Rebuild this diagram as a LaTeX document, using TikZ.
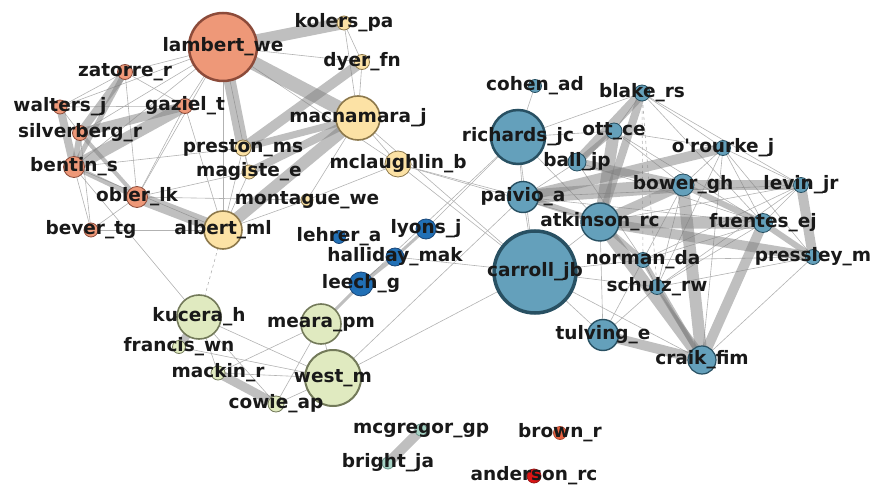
\documentclass[tikz,border=0pt]{standalone}
\usepackage{fontspec}
\newfontfamily\lblfont{DejaVu Sans}
\usepackage{tikz}
\usetikzlibrary{backgrounds}

\definecolor{salmonfill}{RGB}{238,152,120}
\definecolor{salmonline}{RGB}{140,75,58}
\definecolor{sandfill}{RGB}{252,226,165}
\definecolor{sandline}{RGB}{140,120,75}
\definecolor{navyfill}{RGB}{33,112,182}
\definecolor{navyline}{RGB}{25,70,120}
\definecolor{steelfill}{RGB}{100,160,187}
\definecolor{steelline}{RGB}{40,80,98}
\definecolor{sagefill}{RGB}{224,234,192}
\definecolor{sageline}{RGB}{115,122,90}
\definecolor{tealfill}{RGB}{165,210,196}
\definecolor{tealline}{RGB}{110,150,140}

\begin{document}
\begin{tikzpicture}[
    x=1pt, y=-1pt,
    vtx/.style={circle, inner sep=0pt, line width=0.8pt, minimum size=#1},
    salmon/.style={vtx=#1, fill=salmonfill, draw=salmonline},
    sand/.style={vtx=#1, fill=sandfill, draw=sandline},
    navy/.style={vtx=#1, fill=navyfill, draw=navyline},
    steel/.style={vtx=#1, fill=steelfill, draw=steelline},
    sage/.style={vtx=#1, fill=sagefill, draw=sageline},
    teal/.style={vtx=#1, fill=tealfill, draw=tealline},
    heavy/.style={line width=2.5pt},
    lbl/.style={font=\lblfont\bfseries\fontsize{18.5}{18.5}\selectfont, text=black!90, inner sep=0pt},
    lnk/.style={draw=black!30, line width=0.6pt},
    band/.style={draw=black!50, draw opacity=0.5, line width=#1},
]
  \useasboundingbox (0,0) rectangle (875,489);

  % orange / yellow group
  \node[salmon=68, heavy, label={[lbl]center:lambert\_we}] (lambert) at (223,47) {};
  \node[sand=14, label={[lbl]center:kolers\_pa}] (kolers) at (344,23) {};
  \node[sand=15, label={[lbl]center:dyer\_fn}] (dyer) at (362,62) {};
  \node[salmon=15, label={[lbl]center:zatorre\_r}] (zatorre) at (125,72) {};
  \node[salmon=14, label={[lbl]center:walters\_j}] (walters) at (60,107) {};
  \node[salmon=15, label={[lbl]center:gaziel\_t}] (gaziel) at (185,106) {};
  \node[salmon=15, label={[lbl]center:silverberg\_r}] (silverberg) at (80,133) {};
  \node[sand=44, line width=1.6pt, label={[lbl]center:macnamara\_j}] (macnamara) at (358,118) {};
  \node[sand=16, label={[lbl]center:preston\_ms}] (preston) at (243,148) {};
  \node[salmon=21, label={[lbl]center:bentin\_s}] (bentin) at (74,167) {};
  \node[sand=14, label={[lbl]center:magiste\_e}] (magiste) at (249,172) {};
  \node[sand=26, label={[lbl]center:mclaughlin\_b}] (mclaughlin) at (398,164) {};
  \node[salmon=21, label={[lbl]center:obler\_lk}] (obler) at (137,197) {};
  \node[sand=12, label={[lbl]center:montague\_we}] (montague) at (307,200) {};
  \node[salmon=14, label={[lbl]center:bever\_tg}] (bever) at (91,230) {};
  \node[sand=38, line width=1.6pt, label={[lbl]center:albert\_ml}] (albert) at (223,230) {};

  % dark blue group
  \node[navy=13, label={[lbl]center:lehrer\_a}] (lehrer) at (339,237) {};
  \node[navy=20, label={[lbl]center:lyons\_j}] (lyons) at (426,229) {};
  \node[navy=18, label={[lbl]center:halliday\_mak}] (halliday) at (395,257) {};
  \node[navy=24, label={[lbl]center:leech\_g}] (leech) at (361,284) {};

  % green group
  \node[sage=44, line width=1.6pt, label={[lbl]center:kucera\_h}] (kucera) at (199,317) {};
  \node[sage=40, line width=1.6pt, label={[lbl]center:meara\_pm}] (meara) at (321,324) {};
  \node[sage=13, label={[lbl]center:francis\_wn}] (francis) at (179,347) {};
  \node[sage=14, label={[lbl]center:mackin\_r}] (mackin) at (218,373) {};
  \node[sage=56, line width=2pt, label={[lbl]center:west\_m}] (west) at (333,378) {};
  \node[sage=16, label={[lbl]center:cowie\_ap}] (cowie) at (276,404) {};

  % small groups
  \node[teal=12, label={[lbl]center:mcgregor\_gp}] (mcgregor) at (421,430) {};
  \node[teal=12, label={[lbl]center:bright\_ja}] (bright) at (388,463) {};
  \node[vtx=13, fill={rgb,255:red,232;green,98;blue,64}, draw={rgb,255:red,170;green,70;blue,50}, label={[lbl]center:brown\_r}] (brown) at (560,433) {};
  \node[vtx=14, fill={rgb,255:red,220;green,20;blue,20}, draw={rgb,255:red,150;green,20;blue,20}, label={[lbl]center:anderson\_rc}] (anderson) at (534,476) {};

  % steel blue group
  \node[steel=82, line width=3.5pt, label={[lbl]center:carroll\_jb}] (carroll) at (535,272) {};
  \node[steel=54, line width=2.5pt, label={[lbl]center:richards\_jc}] (richards) at (518,137) {};
  \node[steel=13, label={[lbl]center:cohen\_ad}] (cohen) at (535,86) {};
  \node[steel=16, label={[lbl]center:blake\_rs}] (blake) at (642,93) {};
  \node[steel=16, label={[lbl]center:ott\_ce}] (ott) at (614,131) {};
  \node[steel=18, label={[lbl]center:ball\_jp}] (ball) at (577,162) {};
  \node[steel=15, label={[lbl]center:o'rourke\_j}] (orourke) at (723,148) {};
  \node[steel=22, label={[lbl]center:bower\_gh}] (bower) at (683,185) {};
  \node[steel=15, label={[lbl]center:levin\_jr}] (levin) at (801,185) {};
  \node[steel=31, line width=1.4pt, label={[lbl]center:paivio\_a}] (paivio) at (523,197) {};
  \node[steel=38, line width=1.4pt, label={[lbl]center:atkinson\_rc}] (atkinson) at (600,222) {};
  \node[steel=19, label={[lbl]center:fuentes\_ej}] (fuentes) at (763,223) {};
  \node[steel=15, label={[lbl]center:norman\_da}] (norman) at (643,260) {};
  \node[steel=15, label={[lbl]center:pressley\_m}] (pressley) at (813,257) {};
  \node[steel=15, label={[lbl]center:schulz\_rw}] (schulz) at (657,287) {};
  \node[steel=31, line width=1.4pt, label={[lbl]center:tulving\_e}] (tulving) at (603,335) {};
  \node[steel=28, line width=1.2pt, label={[lbl]center:craik\_fim}] (craik) at (702,360) {};

  \begin{scope}[on background layer]
    % weak ties
    \foreach \a/\b in {lambert/zatorre, lambert/walters, lambert/gaziel, lambert/silverberg,
        lambert/bentin, lambert/obler, lambert/albert, lambert/dyer, lambert/mclaughlin,
        lambert/magiste, kolers/dyer, kolers/macnamara, dyer/macnamara,
        zatorre/walters, zatorre/gaziel, walters/gaziel, walters/silverberg, zatorre/obler,
        gaziel/obler, bentin/bever, silverberg/bever, obler/bever, bever/albert,
        bentin/albert, bentin/kucera, obler/magiste, bentin/preston, obler/montague,
        gaziel/albert, preston/albert, magiste/albert, montague/albert, montague/macnamara,
        montague/mclaughlin, mclaughlin/macnamara, preston/magiste, macnamara/carroll,
        mclaughlin/carroll, mclaughlin/paivio, mclaughlin/atkinson, lyons/richards,
        leech/richards, halliday/carroll, kucera/west, kucera/mackin, kucera/cowie,
        francis/west, mackin/west, meara/mackin, meara/cowie, west/cowie, meara/west,
        west/carroll, west/paivio, cohen/richards, richards/blake, richards/paivio,
        richards/carroll, richards/atkinson, richards/ott, paivio/carroll, paivio/ball,
        carroll/atkinson, carroll/tulving, carroll/schulz, carroll/craik, carroll/norman,
        tulving/atkinson, tulving/norman, tulving/schulz, blake/orourke, blake/levin,
        blake/fuentes, blake/ott, orourke/levin, orourke/fuentes, orourke/pressley,
        orourke/craik, orourke/schulz, levin/fuentes, levin/norman, levin/schulz,
        levin/atkinson, pressley/craik, pressley/schulz, pressley/norman, bower/norman,
        bower/schulz, bower/orourke, ott/bower, ott/fuentes, ott/orourke, ball/fuentes,
        ball/norman, norman/schulz, fuentes/schulz, fuentes/norman, paivio/fuentes,
        paivio/levin}
      \draw[lnk] (\a.center) -- (\b.center);
    \foreach \a/\b in {albert/kucera, blake/norman, blake/schulz}
      \draw[lnk, dashed] (\a.center) -- (\b.center);
    % strong ties
    \foreach \a/\b/\w in {lambert/kolers/12, lambert/macnamara/14, lambert/preston/12,
        dyer/preston/10, macnamara/preston/7, macnamara/albert/12, macnamara/magiste/8,
        zatorre/silverberg/8, zatorre/bentin/5, walters/bentin/8, gaziel/silverberg/9,
        gaziel/bentin/12, silverberg/bentin/6, bentin/obler/5, silverberg/obler/4,
        obler/albert/12, kucera/francis/8, mackin/cowie/9, mcgregor/bright/10,
        leech/halliday/4, halliday/lyons/3, meara/leech/3,
        blake/ball/10, blake/atkinson/8, ott/atkinson/12, ott/ball/5, paivio/bower/14,
        ball/bower/8, atkinson/bower/10, atkinson/fuentes/12, bower/levin/10,
        orourke/paivio/10, levin/pressley/10, fuentes/pressley/6, atkinson/pressley/10,
        atkinson/craik/12, bower/craik/12, fuentes/craik/10, tulving/craik/10,
        norman/craik/5, schulz/craik/4, atkinson/norman/5, bower/fuentes/6,
        paivio/atkinson/6}
      \draw[band=\w pt] (\a.center) -- (\b.center);
  \end{scope}
\end{tikzpicture}
\end{document}
